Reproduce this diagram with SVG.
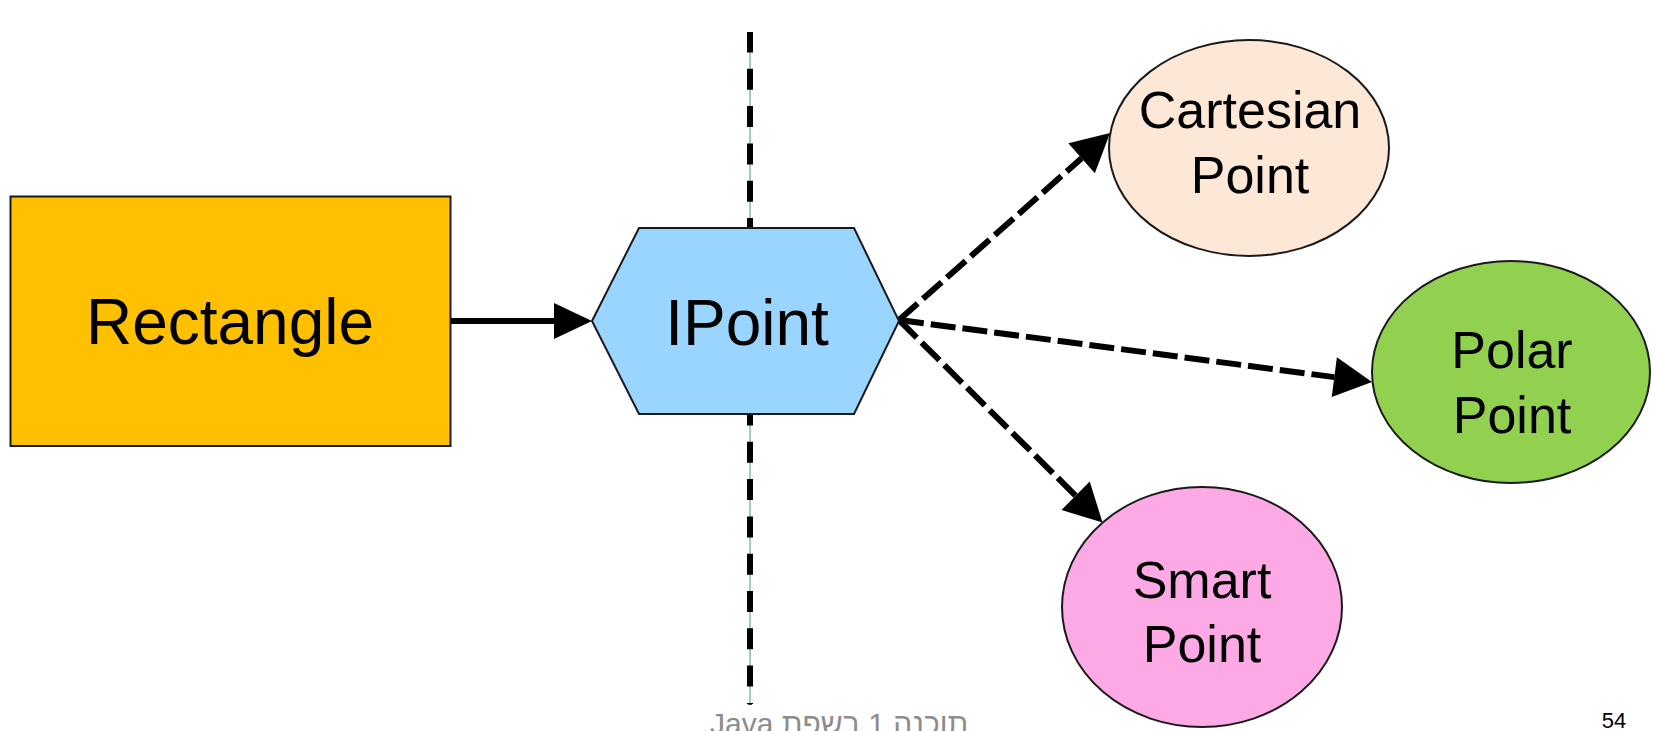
<svg xmlns="http://www.w3.org/2000/svg" width="1654" height="731" viewBox="0 0 1654 731">
<style>
  text { font-family: "Liberation Sans", Arial, "DejaVu Sans", sans-serif; fill: #000; }
  .big { font-size: 64px; }
  .mid { font-size: 52px; }
  .shape { stroke: #1a1a1a; stroke-width: 2; }
  .conn { stroke: #000; stroke-width: 6; fill: none; stroke-linecap: butt; }
  .dash { stroke-dasharray: 25 7; }
</style>
<defs>
  <marker id="ah" markerUnits="userSpaceOnUse" markerWidth="40" markerHeight="42" refX="0" refY="20" orient="auto" overflow="visible">
    <path d="M0,0 L38,20 L0,40 Z" fill="#000"/>
  </marker>
  <marker id="ahs" markerUnits="userSpaceOnUse" markerWidth="40" markerHeight="38" refX="0" refY="18" orient="auto" overflow="visible">
    <path d="M0,0 L38,18 L0,36 Z" fill="#000"/>
  </marker>
</defs>
<rect width="1654" height="731" fill="#fff"/>

<g id="divider">
  <line x1="750" y1="32" x2="750" y2="704" stroke="#3f9a7c" stroke-width="1"/>
  <line x1="750" y1="32" x2="750" y2="704" stroke="#000" stroke-width="6" stroke-dasharray="21 16.3" stroke-dashoffset="0.5"/>
  <line x1="748" y1="704" x2="752" y2="704" stroke="#000" stroke-width="1.5"/>
</g>

<g id="connectors">
  <line class="conn" x1="451" y1="321" x2="554" y2="321" marker-end="url(#ahs)"/>
  <line class="conn dash" x1="899" y1="320" x2="1081.6" y2="158.2" marker-end="url(#ah)"/>
  <line class="conn dash" x1="899" y1="320" x2="1334.3" y2="377.1" marker-end="url(#ah)"/>
  <line class="conn dash" x1="899" y1="320" x2="1075.6" y2="495.7" marker-end="url(#ah)"/>
</g>

<g id="rectangle">
  <rect class="shape" x="10.5" y="196.5" width="440" height="249.5" fill="#FFC000" stroke="#333"/>
  <text class="big" x="230" y="344" text-anchor="middle">Rectangle</text>
</g>

<g id="ipoint">
  <polygon class="shape" points="592,321 639,228 854,228 899,321 854,414 639,414" fill="#99D5FF"/>
  <text class="big" x="747" y="345" text-anchor="middle">IPoint</text>
</g>

<g id="cartesian">
  <ellipse class="shape" cx="1249" cy="148" rx="140" ry="108" fill="#FDE7D6"/>
  <text class="mid" x="1250" y="128" text-anchor="middle">Cartesian</text>
  <text class="mid" x="1250" y="193" text-anchor="middle">Point</text>
</g>

<g id="polar">
  <ellipse class="shape" cx="1511" cy="372" rx="139" ry="111" fill="#92D050"/>
  <text class="mid" x="1512" y="368" text-anchor="middle">Polar</text>
  <text class="mid" x="1512" y="433" text-anchor="middle">Point</text>
</g>

<g id="smart">
  <ellipse class="shape" cx="1202" cy="607" rx="140" ry="120" fill="#FDA9E5"/>
  <text class="mid" x="1202" y="598" text-anchor="middle">Smart</text>
  <text class="mid" x="1202" y="662" text-anchor="middle">Point</text>
</g>

<g id="footer">
  <text x="835" y="734" font-size="30" text-anchor="middle" direction="rtl" style="fill:#8c8c8c">תוכנה 1 בשפת Java.</text>
  <text x="1614" y="728" font-size="22" text-anchor="middle">54</text>
</g>
</svg>
